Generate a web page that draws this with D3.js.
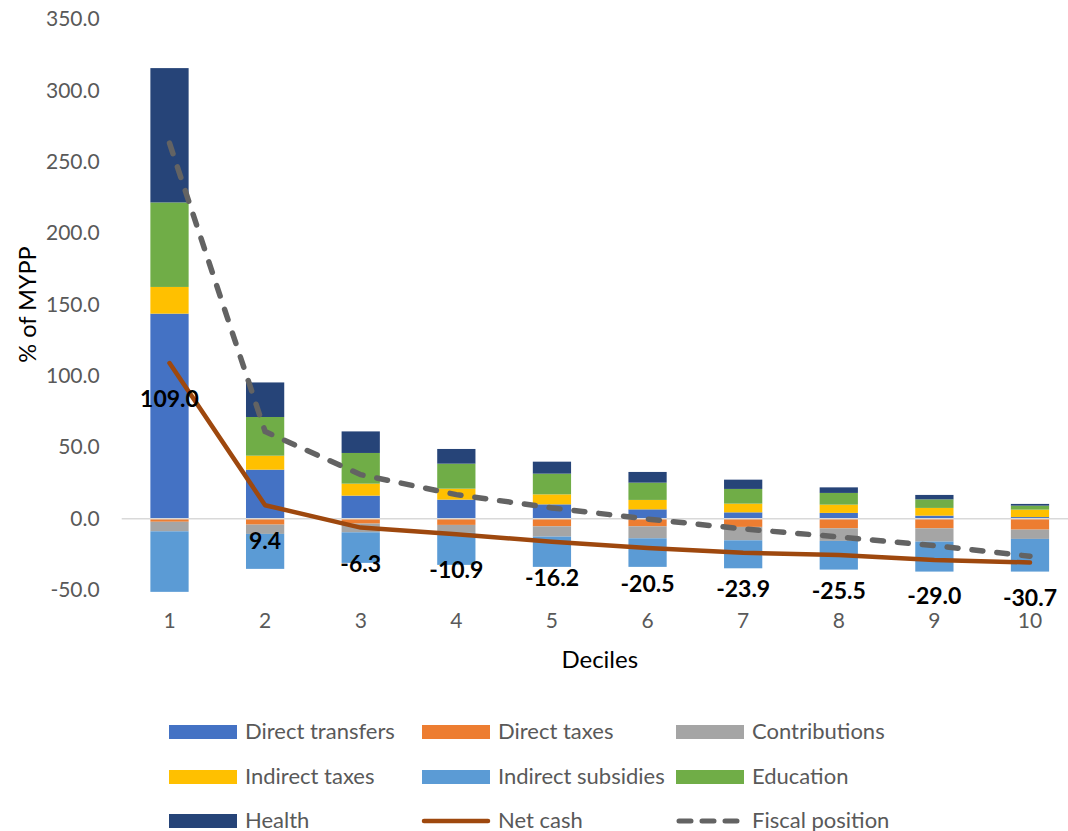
<!DOCTYPE html>
<html>
<head>
<meta charset="utf-8">
<script src="https://cdn.jsdelivr.net/npm/d3@7"></script>
<style>
  html, body { margin: 0; padding: 0; background: #fff; }
  svg { display: block; font-family: Lato, "Open Sans", sans-serif; }
</style>
</head>
<body>
<svg id="chart" width="1068" height="831"></svg>
<script>
// Deciles on the x axis
const deciles = ["1", "2", "3", "4", "5", "6", "7", "8", "9", "10"];

// Stacked components, % of MYPP
const directTransfers   = [143.6, 34.3, 16.1, 13.3, 10.0, 6.5, 4.4, 4.0, 2.1, 1.1];
const directTaxes       = [-2.2, -4.2, -3.5, -4.4, -5.4, -5.4, -5.8, -6.8, -6.8, -7.7];
const contributions     = [-6.7, -6.5, -6.1, -5.6, -7.2, -8.4, -9.4, -8.8, -9.3, -6.5];
const indirectTaxes     = [18.7, 9.8, 8.4, 7.7, 7.0, 6.6, 6.1, 5.8, 5.4, 5.2];
const indirectSubsidies = [-42.4, -24.5, -21.4, -22.4, -21.2, -20.0, -19.6, -20.1, -21.0, -22.9];
const education         = [59.2, 27.1, 21.5, 17.5, 14.5, 12.1, 10.3, 8.2, 6.0, 2.8];
const health            = [94.1, 24.2, 15.1, 10.3, 8.4, 7.5, 6.5, 3.9, 3.1, 1.2];

// Lines
const netCash        = [109.0, 9.4, -6.3, -10.9, -16.2, -20.5, -23.9, -25.5, -29.0, -30.7];
const fiscalPosition = [263.0, 61.0, 30.8, 16.8, 7.5, -0.3, -7.2, -12.8, -18.9, -26.4];

// Value axis ticks
const yTicks = [-50, 0, 50, 100, 150, 200, 250, 300, 350];

const seriesNames = ["Direct transfers", "Direct taxes", "Contributions", "Indirect taxes",
                     "Indirect subsidies", "Education", "Health"];
const seriesValues = [directTransfers, directTaxes, contributions, indirectTaxes,
                      indirectSubsidies, education, health];
const seriesColors = ["#4472C4", "#ED7D31", "#A5A5A5", "#FFC000", "#5B9BD5", "#70AD47", "#264478"];

const rows = deciles.map((d, i) => {
  const r = { decile: d };
  seriesNames.forEach((n, k) => { r[n] = seriesValues[k][i]; });
  return r;
});

// One-decimal format with a plain hyphen for negatives
const fmt = d3.formatLocale({ decimal: ".", thousands: ",", grouping: [3], currency: ["", ""], minus: "-" })
  .format(".1f");

const svg = d3.select("#chart");
const plot = { left: 121.7, right: 1077.8, top: 19, bottom: 590 };

const x = d3.scaleBand().domain(deciles).range([plot.left, plot.right]).padding(0);
const y = d3.scaleLinear().domain([-50, 350]).range([plot.bottom, plot.top]);
const barW = x.bandwidth() * 0.4;
const cx = d => x(d) + x.bandwidth() / 2;

const textGrey = "#595959";

// Stacked bars (positives up, negatives down)
const stack = d3.stack().keys(seriesNames).offset(d3.stackOffsetDiverging);
const layers = stack(rows);

svg.append("g").selectAll("g")
  .data(layers)
  .join("g")
  .attr("fill", (d, i) => seriesColors[i])
  .selectAll("rect")
  .data(d => d)
  .join("rect")
  .attr("x", d => cx(d.data.decile) - barW / 2)
  .attr("width", barW)
  .attr("y", d => y(Math.max(d[0], d[1])))
  .attr("height", d => Math.abs(y(d[0]) - y(d[1])));

// Horizontal axis line at zero
svg.append("line")
  .attr("x1", plot.left).attr("x2", plot.right)
  .attr("y1", y(0)).attr("y2", y(0))
  .attr("stroke", "#D9D9D9").attr("stroke-width", 1.5);

// Y axis labels
const yAxis = svg.append("g")
  .attr("transform", `translate(${plot.left},0)`)
  .call(d3.axisLeft(y).tickValues(yTicks).tickFormat(fmt).tickSize(0).tickPadding(22));
yAxis.select(".domain").remove();
yAxis.selectAll("text").attr("font-size", 21).attr("fill", textGrey).attr("font-family", "Lato");

// X axis labels
const xAxis = svg.append("g")
  .attr("transform", `translate(0,${plot.bottom})`)
  .call(d3.axisBottom(x).tickSize(0).tickPadding(23));
xAxis.select(".domain").remove();
xAxis.selectAll("text").attr("font-size", 21).attr("fill", textGrey).attr("font-family", "Lato");

// Axis titles
svg.append("text")
  .attr("x", (plot.left + plot.right) / 2).attr("y", 668)
  .attr("text-anchor", "middle").attr("font-size", 24).attr("fill", "#000")
  .text("Deciles");
svg.append("text")
  .attr("transform", `translate(36,${(plot.top + plot.bottom) / 2}) rotate(-90)`)
  .attr("text-anchor", "middle").attr("font-size", 23.5).attr("fill", "#000")
  .text("% of MYPP");

// Lines
const line = d3.line().x((d, i) => cx(deciles[i])).y(d => y(d));

svg.append("path")
  .datum(fiscalPosition)
  .attr("d", line)
  .attr("fill", "none")
  .attr("stroke", "#636363")
  .attr("stroke-width", 5.5)
  .attr("stroke-linecap", "round")
  .attr("stroke-dasharray", "11,14");

svg.append("path")
  .datum(netCash)
  .attr("d", line)
  .attr("fill", "none")
  .attr("stroke", "#9E480E")
  .attr("stroke-width", 4.5)
  .attr("stroke-linecap", "round")
  .attr("stroke-linejoin", "round");

// Net cash value labels
svg.append("g").selectAll("text")
  .data(netCash)
  .join("text")
  .attr("x", (d, i) => cx(deciles[i]))
  .attr("y", d => y(d) + 36)
  .attr("dy", "0.35em")
  .attr("text-anchor", "middle")
  .attr("font-size", 23)
  .attr("font-weight", "bold")
  .attr("fill", "#000")
  .text(d => fmt(d));

// Legend
const legendItems = [
  { name: "Direct transfers", type: "rect", color: "#4472C4" },
  { name: "Direct taxes", type: "rect", color: "#ED7D31" },
  { name: "Contributions", type: "rect", color: "#A5A5A5" },
  { name: "Indirect taxes", type: "rect", color: "#FFC000" },
  { name: "Indirect subsidies", type: "rect", color: "#5B9BD5" },
  { name: "Education", type: "rect", color: "#70AD47" },
  { name: "Health", type: "rect", color: "#264478" },
  { name: "Net cash", type: "line", color: "#9E480E" },
  { name: "Fiscal position", type: "dash", color: "#636363" }
];
const colX = [169, 422, 676];
const rowY = [732, 777, 821];

const lg = svg.append("g").selectAll("g")
  .data(legendItems)
  .join("g")
  .attr("transform", (d, i) => `translate(${colX[i % 3]},${rowY[Math.floor(i / 3)]})`);

lg.filter(d => d.type === "rect").append("rect")
  .attr("x", 0).attr("y", -7).attr("width", 68).attr("height", 14)
  .attr("fill", d => d.color);
lg.filter(d => d.type === "line").append("line")
  .attr("x1", 2).attr("x2", 66).attr("y1", 0).attr("y2", 0)
  .attr("stroke", d => d.color).attr("stroke-width", 4.5).attr("stroke-linecap", "round");
lg.filter(d => d.type === "dash").append("line")
  .attr("x1", 3).attr("x2", 68).attr("y1", 0).attr("y2", 0)
  .attr("stroke", d => d.color).attr("stroke-width", 5).attr("stroke-linecap", "round")
  .attr("stroke-dasharray", "12,11");
lg.append("text")
  .attr("x", 76).attr("y", 0).attr("dy", "0.33em")
  .attr("font-size", 22).attr("fill", textGrey)
  .text(d => d.name);
</script>
</body>
</html>
